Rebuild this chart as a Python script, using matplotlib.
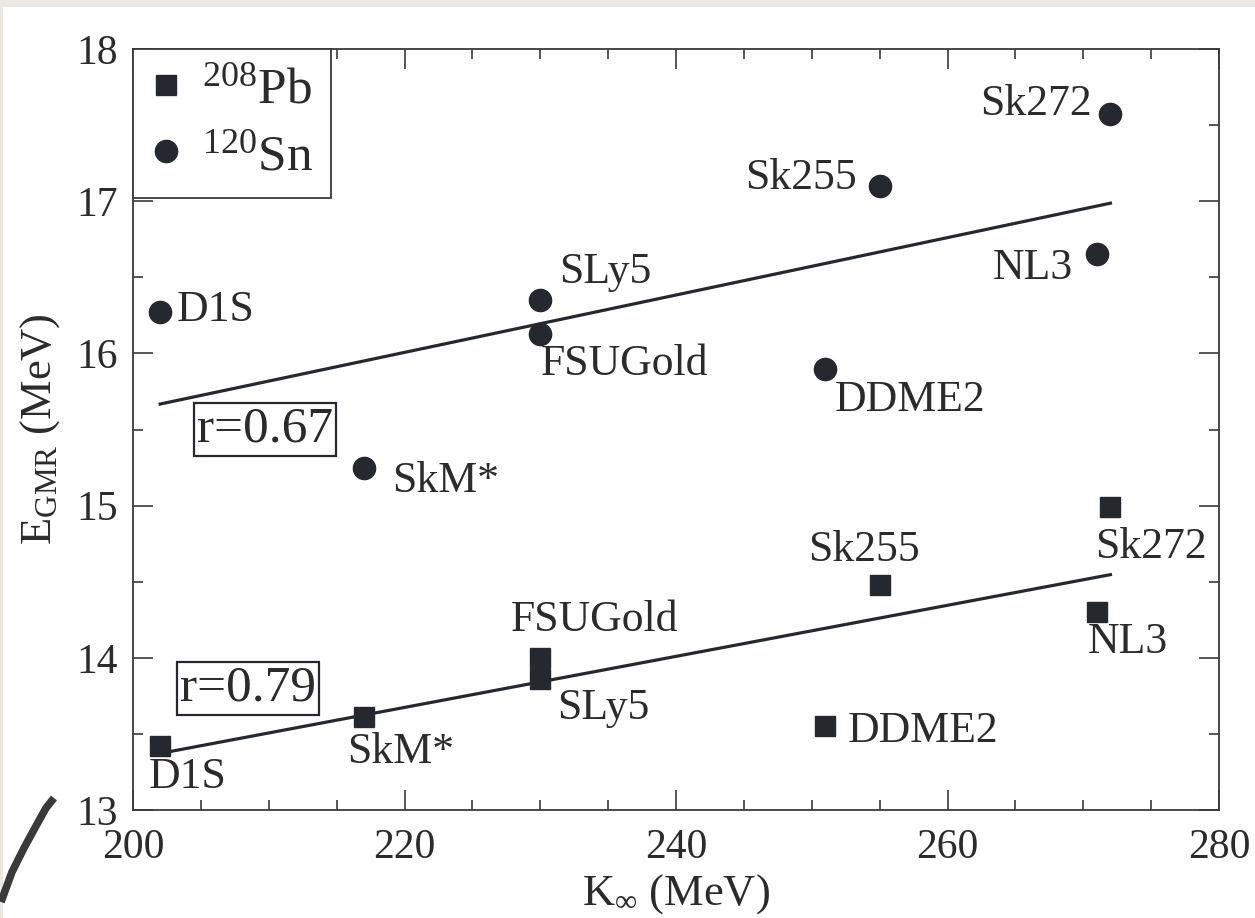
import numpy as np
import matplotlib
matplotlib.use('Agg')
import matplotlib.pyplot as plt
from matplotlib.lines import Line2D
from matplotlib.patches import Rectangle
from matplotlib.ticker import MultipleLocator

# --- data -------------------------------------------------------------
models = ['D1S', 'SkM*', 'SLy5', 'FSUGold', 'DDME2', 'Sk255', 'NL3', 'Sk272']
k_inf = [202, 217, 230, 230, 251, 255, 271, 272]            # MeV
e_sn120 = [16.27, 15.25, 16.35, 16.13, 15.90, 17.10, 16.65, 17.57]
e_pb208 = [13.42, 13.61, 13.86, 14.00, 13.55, 14.48, 14.30, 14.99]
r_labels = ['r=0.67', 'r=0.79']
x_ticks = [200, 220, 240, 260, 280]
y_ticks = [13, 14, 15, 16, 17, 18]

# label placement: (dx px, dy px downward, ha)
sn_offsets = {
    'D1S': (17, -2, 'left'), 'SkM*': (28, 13, 'left'), 'SLy5': (19, -28, 'left'),
    'FSUGold': (1, 30, 'left'), 'DDME2': (9, 31, 'left'), 'Sk255': (-23, -8, 'right'),
    'NL3': (-24, 14, 'right'), 'Sk272': (-19, -10, 'right'),
}
pb_offsets = {
    'D1S': (-11, 31, 'left'), 'SkM*': (-17, 35, 'left'), 'SLy5': (17, 29, 'left'),
    'FSUGold': (-29, -38, 'left'), 'DDME2': (22, 5, 'left'), 'Sk255': (-72, -35, 'left'),
    'NL3': (-9, 30, 'left'), 'Sk272': (-15, 40, 'left'),
}

plt.rcParams['font.family'] = ['Liberation Serif', 'DejaVu Serif']
plt.rcParams['mathtext.fontset'] = 'custom'
plt.rcParams['mathtext.rm'] = 'Liberation Serif'
plt.rcParams['mathtext.it'] = 'Liberation Serif:italic'
plt.rcParams['mathtext.bf'] = 'Liberation Serif:bold'

INK = '#25292f'
TEXT = '#2b2b2b'
EDGE = '#3a3a3a'
PX = 0.72  # points per pixel at 100 dpi

W, H = 1255, 918
fig = plt.figure(figsize=(W / 100, H / 100), dpi=100)
fig.patch.set_facecolor('white')

# paper-coloured margin along the top and left edges
fig.patches.append(Rectangle((0, 1 - 7 / H), 1, 7 / H, transform=fig.transFigure,
                             facecolor='#ebe8e4', edgecolor='none', zorder=0))
fig.patches.append(Rectangle((0, 0), 3 / W, 1, transform=fig.transFigure,
                             facecolor='#ebe8e4', edgecolor='none', zorder=0))

ax = fig.add_axes([133 / W, 1 - 810 / H, (1219 - 133) / W, (810 - 49) / H])

ax.plot(k_inf, e_pb208, ls='none', marker='s', ms=14, color=INK, zorder=3)
ax.plot(k_inf, e_sn120, ls='none', marker='o', ms=16, color=INK, zorder=3)

# linear fits
xs = np.array([min(k_inf), max(k_inf)], dtype=float)
for ys in (e_sn120, e_pb208):
    p = np.polyfit(k_inf, ys, 1)
    ax.plot(xs, np.polyval(p, xs), color=INK, lw=2.3, zorder=2)

for name, x, y in zip(models, k_inf, e_sn120):
    dx, dy, ha = sn_offsets[name]
    ax.annotate(name, (x, y), xytext=(dx * PX, -dy * PX), textcoords='offset points',
                ha=ha, va='center', fontsize=31.5, color=TEXT)
for name, x, y in zip(models, k_inf, e_pb208):
    dx, dy, ha = pb_offsets[name]
    ax.annotate(name, (x, y), xytext=(dx * PX, -dy * PX), textcoords='offset points',
                ha=ha, va='center', fontsize=31.5, color=TEXT)

box = dict(boxstyle='square,pad=0.06', facecolor='white', edgecolor=INK, linewidth=1.6)
ax.text(209.7, 15.50, r_labels[0], ha='center', va='center', fontsize=37,
        color=TEXT, bbox=box, zorder=4)
ax.text(208.5, 13.80, r_labels[1], ha='center', va='center', fontsize=37,
        color=TEXT, bbox=box, zorder=4)

ax.set_xlim(200, 280)
ax.set_ylim(13, 18)
ax.set_xticks(x_ticks)
ax.set_yticks(y_ticks)
ax.xaxis.set_minor_locator(MultipleLocator(5))
ax.yaxis.set_minor_locator(MultipleLocator(0.5))
ax.tick_params(which='both', direction='in', top=True, right=True,
               color=EDGE, width=1.2, labelcolor=TEXT, labelsize=30)
ax.tick_params(which='major', length=14.4)
ax.tick_params(which='minor', length=7.2)
ax.tick_params(axis='x', pad=13)
ax.tick_params(axis='y', pad=11)
for s in ax.spines.values():
    s.set_color(EDGE)
    s.set_linewidth(1.3)

ax.set_xlabel(r'K$_{\infty}$ (MeV)', fontsize=32, color=TEXT, labelpad=4)
ax.set_ylabel(r'E$_{\mathrm{GMR}}$ (MeV)', fontsize=32, color=TEXT, labelpad=10)

h_pb = Line2D([], [], ls='none', marker='s', ms=14, color=INK)
h_sn = Line2D([], [], ls='none', marker='o', ms=16, color=INK)
leg = ax.legend([h_pb, h_sn], [r'$^{208}$Pb', r'$^{120}$Sn'], loc='upper left',
                bbox_to_anchor=(0, 1), borderaxespad=0, fancybox=False, framealpha=1,
                edgecolor=EDGE, fontsize=37, handlelength=0.6, handletextpad=0.4,
                borderpad=0.35, labelspacing=0.38)
leg.get_frame().set_linewidth(1.3)
for t in leg.get_texts():
    t.set_color(TEXT)

# ink stroke in the lower-left margin
stroke = [(54, 798), (46, 808), (36, 826), (24, 848), (12, 872), (1, 902)]
fig.lines.append(Line2D([p[0] / W for p in stroke], [1 - p[1] / H for p in stroke],
                        transform=fig.transFigure, color='#3a3a3a', lw=5.5,
                        solid_capstyle='butt'))

fig.savefig('out.png', dpi=100)
